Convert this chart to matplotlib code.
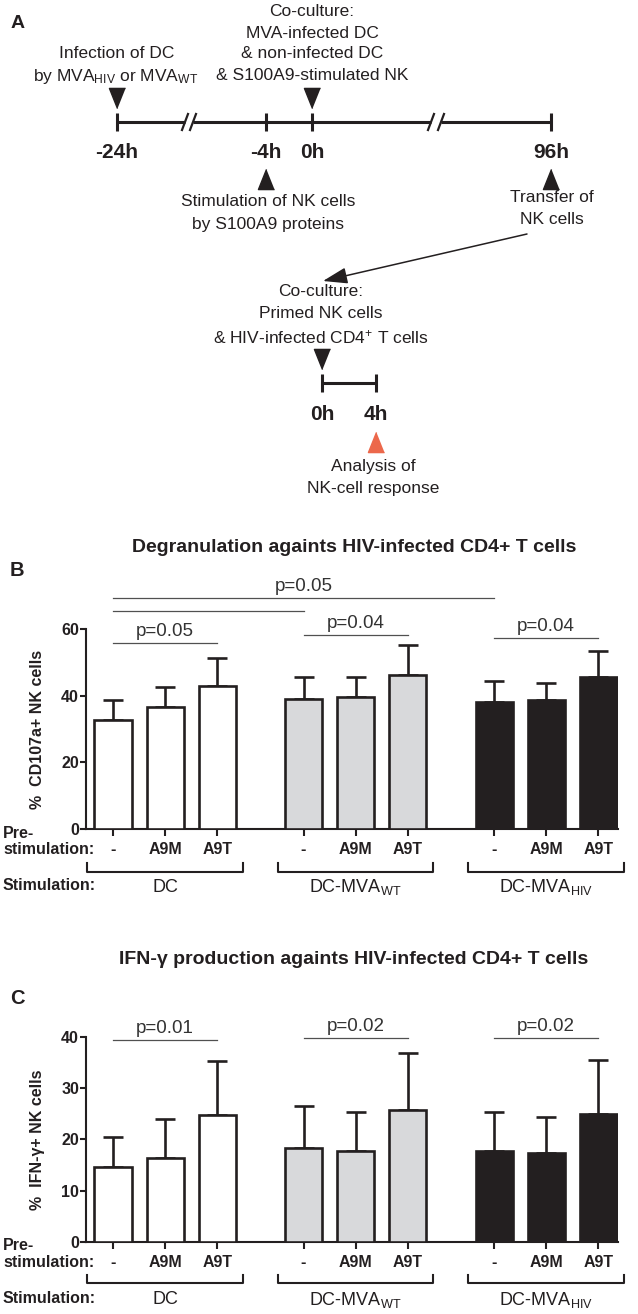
import matplotlib
matplotlib.use('Agg')
import matplotlib.pyplot as plt
import numpy as np

plt.rcParams['font.family'] = ['Liberation Sans', 'DejaVu Sans']
plt.rcParams['mathtext.fontset'] = 'custom'
plt.rcParams['mathtext.rm'] = 'Liberation Sans'
plt.rcParams['mathtext.bf'] = 'Liberation Sans:bold'
plt.rcParams['mathtext.it'] = 'Liberation Sans:italic'

# data
groups = ['DC', r'DC-MVA$_\mathrm{WT}$', r'DC-MVA$_\mathrm{HIV}$']
prestim = ['-', 'A9M', 'A9T']

cd107_mean = [32.6, 36.5, 42.9, 38.9, 39.6, 46.3, 38.1, 38.6, 45.6]
cd107_top = [38.6, 42.6, 51.3, 45.7, 45.7, 55.3, 44.4, 43.8, 53.3]
cd107_sig = [(0, 6, 69.3, 'p=0.05'), (0, 3, 65.5, ''), (0, 2, 55.9, 'p=0.05'),
             (3, 5, 58.2, 'p=0.04'), (6, 8, 57.2, 'p=0.04')]

ifn_mean = [14.5, 16.3, 24.8, 18.4, 17.7, 25.7, 17.8, 17.4, 25.0]
ifn_top = [20.5, 23.9, 35.3, 26.6, 25.4, 36.8, 25.3, 24.3, 35.6]
ifn_sig = [(0, 2, 39.5, 'p=0.01'), (3, 5, 39.9, 'p=0.02'), (6, 8, 39.9, 'p=0.02')]

timeline_ticks = ['-24h', '-4h', '0h', '96h']
coculture_ticks = ['0h', '4h']

ink = '#231f20'
fills = ['#ffffff'] * 3 + ['#d8d9db'] * 3 + [ink] * 3
sig_col = '#505050'

W, H = 638, 1314
fig = plt.figure(figsize=(W / 100, H / 100), dpi=100)

# overlay in pixel coordinates for the scheme and free text
ax0 = fig.add_axes([0, 0, 1, 1])
ax0.set_xlim(0, W)
ax0.set_ylim(H, 0)
ax0.axis('off')


def label(x, y, s, size=12.5, bold=False, ha='center', color=ink):
    ax0.text(x, y, s, ha=ha, va='center', fontsize=size,
             fontweight='bold' if bold else 'normal', color=color)


tri_down = [(0, -1), (-0.8, 1), (0.8, 1)]
tri_up = [(0, 1), (-0.8, -1), (0.8, -1)]

# ---- panel A: main timeline
ty = 122
tick_x = [117, 266, 312, 551]
for a, b in [(117, 185), (193, 431), (441, 551)]:
    ax0.plot([a, b], [ty, ty], color=ink, lw=2.2, solid_capstyle='butt')
for bx in [185, 193, 431, 441]:
    ax0.plot([bx - 3, bx + 3], [ty + 8, ty - 8], color=ink, lw=1.6)
ax0.vlines(tick_x, ty - 9, ty + 9, color=ink, lw=2.2)
for x, t in zip(tick_x, timeline_ticks):
    label(x, 153, t, size=15, bold=True)

ax0.plot([117, 312], [98, 98], ls='none', marker=tri_down, ms=14.5, color=ink)
ax0.plot([266, 551], [179, 179], ls='none', marker=tri_up, ms=14.5, color=ink)

label(117, 53, 'Infection of DC')
label(116, 76, r'by MVA$_\mathrm{HIV}$ or MVA$_\mathrm{WT}$')
for y, s in zip([12, 33, 54, 76], ['Co-culture:', 'MVA-infected DC',
                                    '& non-infected DC', '& S100A9-stimulated NK']):
    label(312, y, s)
label(268, 202, 'Stimulation of NK cells')
label(268, 224, 'by S100A9 proteins')
label(552, 197, 'Transfer of')
label(552, 219, 'NK cells')

ax0.annotate('', xy=(323, 281), xytext=(527, 234),
             arrowprops=dict(arrowstyle='-|>,head_length=0.75,head_width=0.25',
                             mutation_scale=20, lw=1.1, color=ink,
                             shrinkA=0, shrinkB=0))

# second timeline
cy = 383
for y, s in zip([292, 314, 337], ['Co-culture:', 'Primed NK cells',
                                  r'& HIV-infected CD4$^{+}$ T cells']):
    label(321, y, s)
ax0.plot([322, 376], [cy, cy], color=ink, lw=2.2, solid_capstyle='butt')
ax0.vlines([322, 376], cy - 9, cy + 9, color=ink, lw=2.2)
for x, t in zip([322, 376], coculture_ticks):
    label(x, 415, t, size=15, bold=True)
ax0.plot([322], [359], ls='none', marker=tri_down, ms=14.5, color=ink)
ax0.plot([376], [442], ls='none', marker=tri_up, ms=14.5, color='#ec684b')
label(373, 467, 'Analysis of')
label(373, 488, 'NK-cell response')

label(18, 24, 'A', size=14, bold=True)

# ---- bar panels
bar_x = np.array([g * 3.65 + i for g in range(3) for i in range(3)])
x_lo, x_hi = -0.517, 9.675


def bar_panel(bottom_px, top_px, means, tops, ymax, yticks, ylabel, sig,
              title, title_y, brk_dy):
    ax = fig.add_axes([86 / W, (H - bottom_px) / H, (618 - 86) / W,
                       (bottom_px - top_px) / H])
    ax.set_xlim(x_lo, x_hi)
    ax.set_ylim(0, ymax)
    ppu = ymax / (bottom_px - top_px)  # data units per pixel

    means = np.array(means)
    tops = np.array(tops)
    ax.errorbar(bar_x, means, yerr=[np.zeros(len(means)), tops - means],
                fmt='none', ecolor=ink, elinewidth=1.9, capsize=7,
                capthick=1.9, zorder=2, clip_on=False)
    ax.bar(bar_x, means, width=0.71, color=fills, edgecolor=ink,
           linewidth=1.9, zorder=3)

    for spine in ['top', 'right']:
        ax.spines[spine].set_visible(False)
    for spine in ['left', 'bottom']:
        ax.spines[spine].set_linewidth(1.5)
        ax.spines[spine].set_color(ink)
    ax.set_yticks(yticks)
    ax.set_yticklabels([str(v) for v in yticks], fontweight='bold', fontsize=11.5)
    ax.set_xticks(bar_x)
    ax.set_xticklabels(prestim * 3, fontweight='bold', fontsize=11.5)
    ax.tick_params(axis='y', length=4, width=1.5, pad=1, colors=ink)
    ax.tick_params(axis='x', length=5, width=1.5, pad=4.5, colors=ink)
    ax.set_ylabel(ylabel, fontsize=11.5, fontweight='bold', color=ink)
    ax.yaxis.set_label_coords(-0.078, 0.5)

    for i, j, y, s in sig:
        ax.plot([bar_x[i], bar_x[j]], [y, y], color=sig_col, lw=0.9,
                clip_on=False)
        if s:
            ax.text((bar_x[i] + bar_x[j]) / 2, y + 3 * ppu, s, ha='center',
                    va='bottom', fontsize=13.5, color='#333333')

    # stimulation brackets
    yb = -brk_dy * ppu
    yt = -(brk_dy - 8.5) * ppu
    for g in range(3):
        c = bar_x[g * 3 + 1]
        ax.plot([c - 1.49, c - 1.49, c + 1.49, c + 1.49], [yt, yb, yb, yt],
                color=ink, lw=1.5, clip_on=False)
        ax.text(c, -58 * ppu, groups[g], ha='center', va='center',
                fontsize=13, color=ink)

    label(3, bottom_px + 4, 'Pre-', size=11.5, bold=True, ha='left')
    label(3, bottom_px + 21, 'stimulation:', size=11.5, bold=True, ha='left')
    label(3, bottom_px + 57, 'Stimulation:', size=11.5, bold=True, ha='left')
    label(354, title_y, title, size=14, bold=True)
    return ax


axB = bar_panel(829, 629, cd107_mean, cd107_top, 60, [0, 20, 40, 60],
                '%  CD107a+ NK cells', cd107_sig,
                'Degranulation againts HIV-infected CD4+ T cells', 547, 42.7)
label(17, 570, 'B', size=14.5, bold=True)

axC = bar_panel(1241.7, 1037, ifn_mean, ifn_top, 40, [0, 10, 20, 30, 40],
                '%  IFN-γ+ NK cells', ifn_sig,
                'IFN-γ production againts HIV-infected CD4+ T cells', 959, 41.6)
label(17, 998, 'C', size=14.5, bold=True)

fig.savefig('out.png', dpi=100)
